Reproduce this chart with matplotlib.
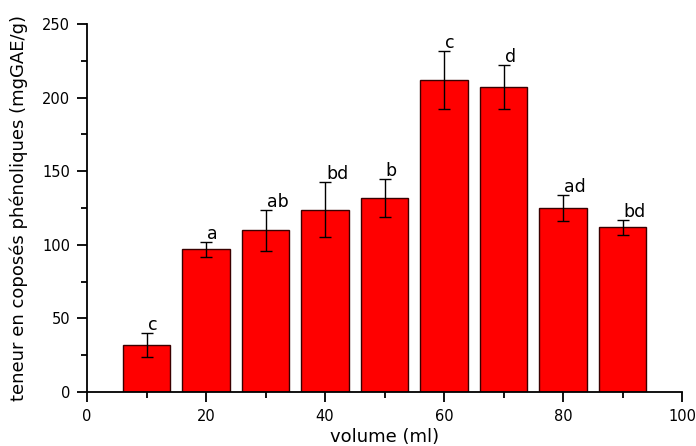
import matplotlib.pyplot as plt
from matplotlib.ticker import MultipleLocator

# data
volumes = [10, 20, 30, 40, 50, 60, 70, 80, 90]
teneur = [32, 97, 110, 124, 132, 212, 207, 125, 112]
erreur = [8, 5, 14, 19, 13, 20, 15, 9, 5]
lettres = ['c', 'a', 'ab', 'bd', 'b', 'c', 'd', 'ad', 'bd']

plt.rcParams['font.family'] = ['DejaVu Sans']

fig = plt.figure(figsize=(6.96, 4.46), dpi=100)
ax = fig.add_axes([0.125, 0.121, 0.855, 0.825])

ax.bar(volumes, teneur, width=8, color='#ff0000', edgecolor='#3a0000', linewidth=1, zorder=2)
ax.errorbar(volumes, teneur, yerr=erreur, fmt='none', ecolor='black',
            elinewidth=1, capsize=4, capthick=1, zorder=3)

# letters above error bars
for x, y, e, l in zip(volumes, teneur, erreur, lettres):
    ax.text(x + 0.2, y + e + 2, l, ha='left', va='baseline', fontsize=12.5)

ax.set_xlim(0, 100)
ax.set_ylim(0, 250)
ax.xaxis.set_major_locator(MultipleLocator(20))
ax.xaxis.set_minor_locator(MultipleLocator(10))
ax.yaxis.set_major_locator(MultipleLocator(50))
ax.yaxis.set_minor_locator(MultipleLocator(25))
ax.tick_params(which='major', direction='out', length=7.5, width=1.3, labelsize=10.5, pad=4.5)
ax.tick_params(which='minor', direction='out', length=4, width=1.3)

ax.spines['top'].set_visible(False)
ax.spines['right'].set_visible(False)
ax.spines['left'].set_linewidth(1.3)
ax.spines['bottom'].set_linewidth(1.3)

ax.set_xlabel('volume (ml)', fontsize=13, labelpad=3)
ax.set_ylabel('teneur en coposés phénoliques (mgGAE/g)', fontsize=13, labelpad=10)

fig.savefig('out.png', dpi=100)
